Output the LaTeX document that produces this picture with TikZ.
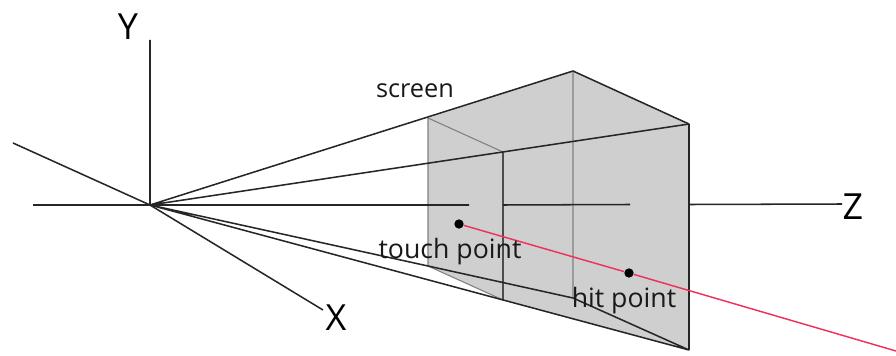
\documentclass[tikz,border=0pt]{standalone}
\usepackage{fontspec}
\setmainfont{Open Sans}
\definecolor{ray}{RGB}{240,50,90}
\tikzset{
  line/.style={draw=black!85,line width=1.15pt},
  mid line/.style={draw=black!70,line width=0.85pt},
  thin grey/.style={draw=black!50,line width=0.8pt},
  lbl/.style={inner sep=0pt,font=\fontsize{20pt}{22pt}\selectfont,text=black!90},
  lbls/.style={inner sep=0pt,font=\fontsize{19pt}{21pt}\selectfont,text=black!90},
  axis label/.style={inner sep=0pt,font=\fontsize{27pt}{30pt}\selectfont},
  spot/.style={circle,fill=black,inner sep=0pt,minimum size=7pt},
}
\begin{document}
\begin{tikzpicture}[x=0.75pt,y=-0.75pt]
\useasboundingbox (0,0) rectangle (896,356);
\coordinate (O) at (150,205);
\coordinate (Ytop) at (150,40);
\coordinate (Xb) at (13,143);
\coordinate (Xf) at (323,310);
\coordinate (Zl) at (33,205);
\coordinate (Z1) at (469,205);
\coordinate (Z2) at (503,205);
\coordinate (Z3) at (630,204.5);
\coordinate (Z4) at (690,204.5);
\coordinate (Z5) at (842,204);
\coordinate (TL) at (428,118);
\coordinate (TB) at (573,71);
\coordinate (TR) at (689,124);
\coordinate (TF) at (503,152);
\coordinate (BL) at (428,266);
\coordinate (BB) at (573,298);
\coordinate (BR) at (689,350);
\coordinate (BF) at (503,300);
\coordinate (RE) at (896,351);
\fill[black!19] (TL)--(TB)--(TR)--(BR)--(BF)--(BL)--cycle;
\draw[thin grey] (TL)--(BL) (TL)--(TF) (TB)--(BB) (BL)--(BF);
\draw[mid line] (TF)--(BF);
\draw[line] (TR)--(BR) (TB)--(TR);
\draw[line] (O)--(Ytop) (Xb)--(O)--(Xf) (Zl)--(Z1) (Z2)--(Z3) (Z4)--(Z5);
\draw[line] (O)--(TB) (O)--(TR) (O)--(BR) (O)--(BL)--(BB)--(BR);
\node[spot] (touch) at (459,224) {};
\node[spot] (hit) at (629,273) {};
\draw[draw=ray,line width=1.1pt] (touch)--(hit)--(RE);
\node[axis label] (lY) at (128,27) {Y};
\node[axis label] (lX) at (336,318) {X};
\node[axis label] (lZ) at (853,207) {Z};
\node[lbls] (ls) at (415,91) {screen};
\node[lbl] (lt) at (450,252) {touch point};
\node[lbl] (lh) at (624,301) {hit point};
\end{tikzpicture}
\end{document}
